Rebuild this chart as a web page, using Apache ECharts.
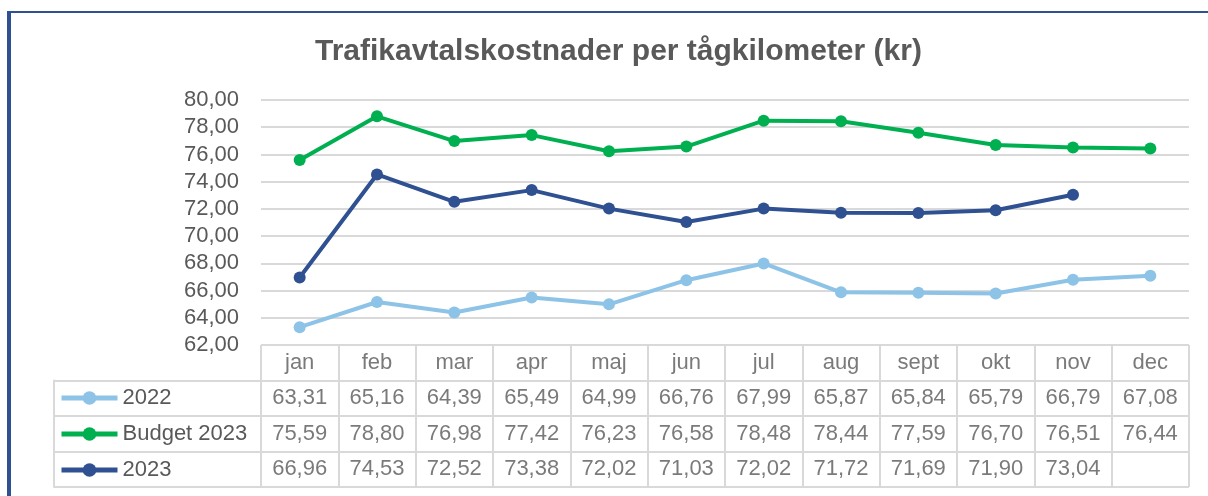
<!DOCTYPE html>
<html>
<head>
<meta charset="utf-8">
<script src="https://cdn.jsdelivr.net/npm/echarts@6/dist/echarts.min.js"></script>
<style>
html,body{margin:0;padding:0;background:#fff;}
#wrap{position:relative;width:1208px;height:496px;}
#chart{position:absolute;left:0;top:0;width:1208px;height:496px;}
#frame{position:absolute;left:7px;top:11px;width:1201px;height:485px;border-top:2px solid #2f5091;border-left:4px solid #2f5091;box-sizing:border-box;pointer-events:none;}
</style>
</head>
<body>
<div id="wrap"><div id="chart"></div><div id="frame"></div></div>
<script>
const titleText = 'Trafikavtalskostnader per tågkilometer (kr)';
const months = ['jan','feb','mar','apr','maj','jun','jul','aug','sept','okt','nov','dec'];
const seriesNames = ['2022','Budget 2023','2023'];
const values2022 = [63.31,65.16,64.39,65.49,64.99,66.76,67.99,65.87,65.84,65.79,66.79,67.08];
const valuesBudget2023 = [75.59,78.80,76.98,77.42,76.23,76.58,78.48,78.44,77.59,76.70,76.51,76.44];
const values2023 = [66.96,74.53,72.52,73.38,72.02,71.03,72.02,71.72,71.69,71.90,73.04,null];
const yMin = 62, yMax = 80, yStep = 2;
const colors = ['#8dc3e7','#00b050','#2f5091'];

const FONT = '"Liberation Sans", Arial, sans-serif';
const TXT = '#595959';
const LINE = '#d9d9d9';
const fmt = v => v.toFixed(2).replace('.', ',');

const allSeries = [values2022, valuesBudget2023, values2023];
const rowCats = ['', ...seriesNames];

// table cell data: [monthIndex, rowIndex, text]
const cellData = [];
months.forEach((m, i) => cellData.push([i, 0, m]));
allSeries.forEach((arr, r) => arr.forEach((v, i) => { if (v != null) cellData.push([i, r + 1, fmt(v)]); }));

const chart = echarts.init(document.getElementById('chart'), null, {renderer:'canvas'});
const option = {
  animation: false,
  textStyle: {fontFamily: FONT},
  title: {
    text: titleText, left: 310, top: 32,
    textStyle: {fontFamily: FONT, fontWeight: 'bold', fontSize: 30, color: TXT}
  },
  legend: {
    orient: 'vertical', left: 54, top: 382,
    itemWidth: 56, itemHeight: 17, itemGap: 14,
    data: seriesNames,
    lineStyle: {width: 5},
    textStyle: {fontFamily: FONT, fontSize: 22, lineHeight: 22, color: TXT}
  },
  grid: [
    {left: 261, right: 19, top: 100, height: 245},
    {left: 261, right: 19, top: 345, height: 142},
    {left: 54, width: 207, top: 380.5, height: 106.5}
  ],
  xAxis: [
    {gridIndex: 0, type: 'category', data: months, boundaryGap: true,
     axisLine: {show: false}, axisTick: {show: false}, axisLabel: {show: false}},
    {gridIndex: 1, type: 'category', data: months, boundaryGap: true,
     axisLine: {show: false}, axisTick: {show: false}, axisLabel: {show: false},
     splitLine: {show: true, interval: 0, lineStyle: {color: LINE, width: 2}}},
    {gridIndex: 2, type: 'value', min: 0, max: 1, show: false}
  ],
  yAxis: [
    {gridIndex: 0, type: 'value', min: yMin, max: yMax, interval: yStep,
     axisLine: {show: false}, axisTick: {show: false},
     axisLabel: {formatter: v => fmt(v), fontFamily: FONT, fontSize: 22, color: TXT, margin: 22},
     splitLine: {lineStyle: {color: LINE, width: 2}}},
    {gridIndex: 1, type: 'category', data: rowCats, inverse: true,
     axisLine: {show: false}, axisTick: {show: false}, axisLabel: {show: false},
     splitLine: {show: true, interval: 0, lineStyle: {color: LINE, width: 2}}},
    {gridIndex: 2, type: 'category', data: seriesNames, inverse: true,
     axisLine: {show: true, lineStyle: {color: LINE, width: 2}}, axisTick: {show: false}, axisLabel: {show: false},
     splitLine: {show: true, interval: 0, lineStyle: {color: LINE, width: 2}}}
  ],
  series: [
    ...seriesNames.map((name, k) => ({
      name, type: 'line', xAxisIndex: 0, yAxisIndex: 0,
      data: allSeries[k], color: colors[k],
      symbol: 'circle', symbolSize: 12,
      lineStyle: {width: 4, color: colors[k]},
      itemStyle: {color: colors[k]},
      connectNulls: false, z: 3 + k
    })),
    {
      type: 'scatter', xAxisIndex: 1, yAxisIndex: 1,
      data: cellData, symbolSize: 1, itemStyle: {color: 'transparent'},
      label: {show: true, position: 'inside', formatter: p => p.data[2],
              fontFamily: FONT, fontSize: 22, color: TXT},
      silent: true
    }
  ]
};
chart.setOption(option);
</script>
</body>
</html>
